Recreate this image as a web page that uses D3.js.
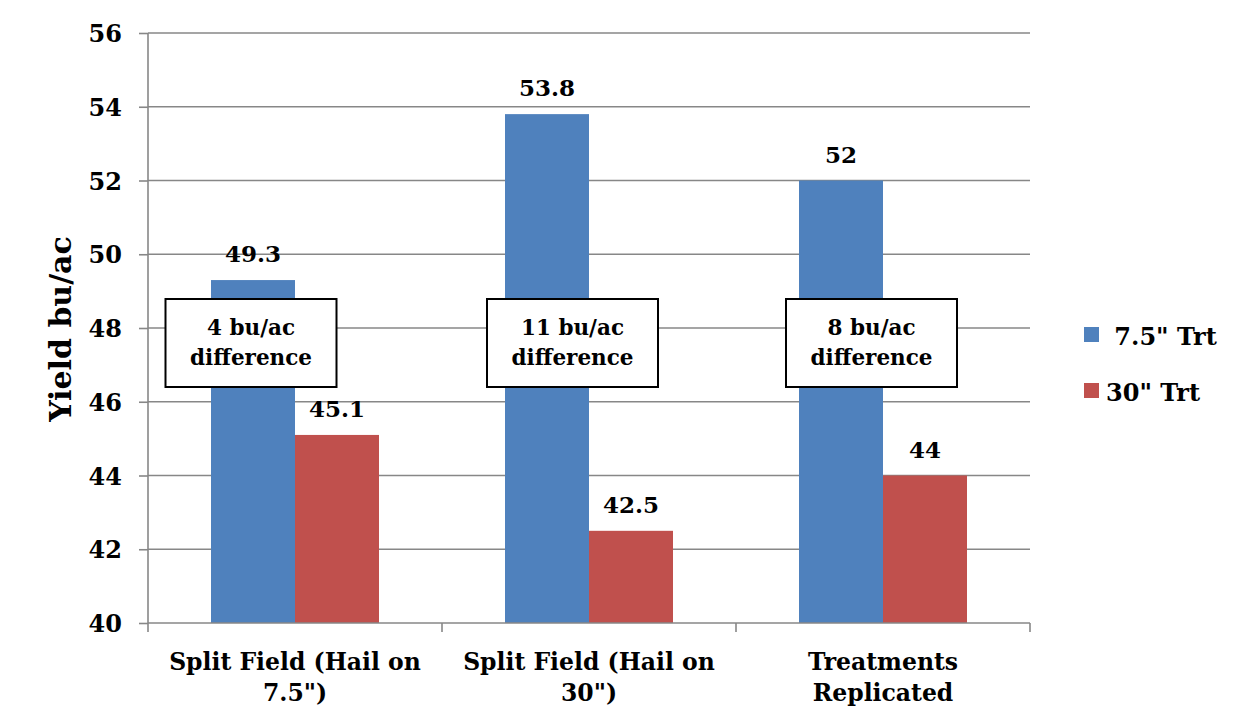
<!DOCTYPE html>
<html>
<head>
<meta charset="utf-8">
<script src="https://cdn.jsdelivr.net/npm/d3@7"></script>
<style>
  html, body { margin: 0; padding: 0; background: #fff; }
  svg { display: block; }
  text { font-family: "DejaVu Serif", "Liberation Serif", serif; font-weight: bold; fill: #000; }
</style>
</head>
<body>
<svg id="chart" width="1249" height="726"></svg>
<script>
// ---- data ----
const categories = ["Split Field (Hail on\n7.5\")", "Split Field (Hail on\n30\")", "Treatments\nReplicated"];
const seriesNames = [" 7.5\" Trt", "30\" Trt"];
const values75 = [49.3, 53.8, 52];
const values30 = [45.1, 42.5, 44];
const annotations = ["4 bu/ac\ndifference", "11 bu/ac\ndifference", "8 bu/ac\ndifference"];
const yTicks = [40, 42, 44, 46, 48, 50, 52, 54, 56];
const yTitle = "Yield bu/ac";

// ---- layout ----
const colors = ["#4F81BD", "#C0504D"];
const plot = { left: 148, right: 1030, top: 33, bottom: 623 };
const annotOffsets = [-44, -16.5, -11.5]; // box centre relative to category centre
const boxW = 171, boxH = 88, boxTop = 299;

const svg = d3.select("#chart");

const y = d3.scaleLinear().domain([40, 56]).range([plot.bottom, plot.top]);
const x0 = d3.scaleBand().domain(categories).range([plot.left, plot.right]).paddingInner(0).paddingOuter(0);
const x1 = d3.scaleBand().domain(seriesNames).range([63, x0.bandwidth() - 63]).padding(0);

// gridlines
svg.append("g").selectAll("line").data(yTicks.slice(1)).join("line")
  .attr("x1", plot.left).attr("x2", plot.right)
  .attr("y1", d => y(d)).attr("y2", d => y(d))
  .attr("stroke", "#878787").attr("stroke-width", 1.6);

// bars
const rows = categories.map((c, i) => ({ cat: c, vals: [values75[i], values30[i]] }));
const groups = svg.append("g").selectAll("g").data(rows).join("g")
  .attr("transform", d => `translate(${x0(d.cat)},0)`);
groups.selectAll("rect").data(d => d.vals.map((v, j) => ({ v, s: seriesNames[j], j })))
  .join("rect")
  .attr("x", d => x1(d.s)).attr("width", x1.bandwidth())
  .attr("y", d => y(d.v)).attr("height", d => y(40) - y(d.v))
  .attr("fill", d => colors[d.j]);

// value labels
groups.selectAll("text.val").data(d => d.vals.map((v, j) => ({ v, s: seriesNames[j], j })))
  .join("text").attr("class", "val")
  .attr("x", d => x1(d.s) + x1.bandwidth() / 2)
  .attr("y", d => y(d.v) - 18)
  .attr("text-anchor", "middle")
  .style("font-size", "23px")
  .text(d => d.v);

// y axis
const yAxis = d3.axisLeft(y).tickValues(yTicks).tickSize(9).tickPadding(17).tickFormat(d3.format("d"));
const gy = svg.append("g").attr("transform", `translate(${plot.left},0)`).call(yAxis);
gy.select(".domain").attr("stroke", "#878787").attr("stroke-width", 1.6).attr("d", `M0,${plot.top}V${plot.bottom}`);
gy.selectAll(".tick line").attr("stroke", "#878787").attr("stroke-width", 1.6);
gy.selectAll(".tick text").style("font-size", "24px").attr("fill", "#000").attr("dy", "0.36em");
gy.attr("font-family", null).attr("font-size", null);

// x axis
const xAxis = d3.axisBottom(x0).tickSize(0).tickFormat(() => "");
const gx = svg.append("g").attr("transform", `translate(0,${plot.bottom})`).call(xAxis);
gx.select(".domain").attr("stroke", "#878787").attr("stroke-width", 1.6).attr("d", `M${plot.left},0H${plot.right}`);
const bounds = categories.map(c => x0(c)).concat([plot.right]);
gx.selectAll("line.bound").data(bounds).join("line").attr("class", "bound")
  .attr("x1", d => d).attr("x2", d => d).attr("y1", 0).attr("y2", 9)
  .attr("stroke", "#878787").attr("stroke-width", 1.6);

// category labels
const catLabels = svg.append("g").selectAll("text").data(categories).join("text")
  .attr("x", d => x0(d) + x0.bandwidth() / 2)
  .attr("y", 670)
  .attr("text-anchor", "middle")
  .style("font-size", "23.5px");
catLabels.selectAll("tspan").data(d => d.split("\n")).join("tspan")
  .attr("x", function () { return this.parentNode.getAttribute("x"); })
  .attr("dy", (d, i) => i === 0 ? 0 : 31)
  .text(d => d);

// annotation boxes
const ann = svg.append("g").selectAll("g").data(annotations).join("g")
  .attr("transform", (d, i) => `translate(${x0(categories[i]) + x0.bandwidth() / 2 + annotOffsets[i]},${boxTop})`);
ann.append("rect")
  .attr("x", -boxW / 2).attr("y", 0).attr("width", boxW).attr("height", boxH)
  .attr("fill", "#fff").attr("stroke", "#000").attr("stroke-width", 2);
const annText = ann.append("text").attr("text-anchor", "middle").attr("y", 36).style("font-size", "21.5px");
annText.selectAll("tspan").data(d => d.split("\n")).join("tspan")
  .attr("x", 0).attr("dy", (d, i) => i === 0 ? 0 : 30).text(d => d);

// y title
svg.append("text")
  .attr("transform", "translate(71,329) rotate(-90)")
  .attr("text-anchor", "middle")
  .style("font-size", "30px")
  .text(yTitle);

// legend
const legend = svg.append("g").selectAll("g").data(seriesNames).join("g")
  .attr("transform", (d, i) => `translate(1084,${327 + i * 56})`);
legend.append("rect").attr("width", 15).attr("height", 15).attr("fill", (d, i) => colors[i]);
legend.append("text").attr("x", 22).attr("y", 18)
  .style("font-size", "24px").style("white-space", "pre").text(d => d);
</script>
</body>
</html>
